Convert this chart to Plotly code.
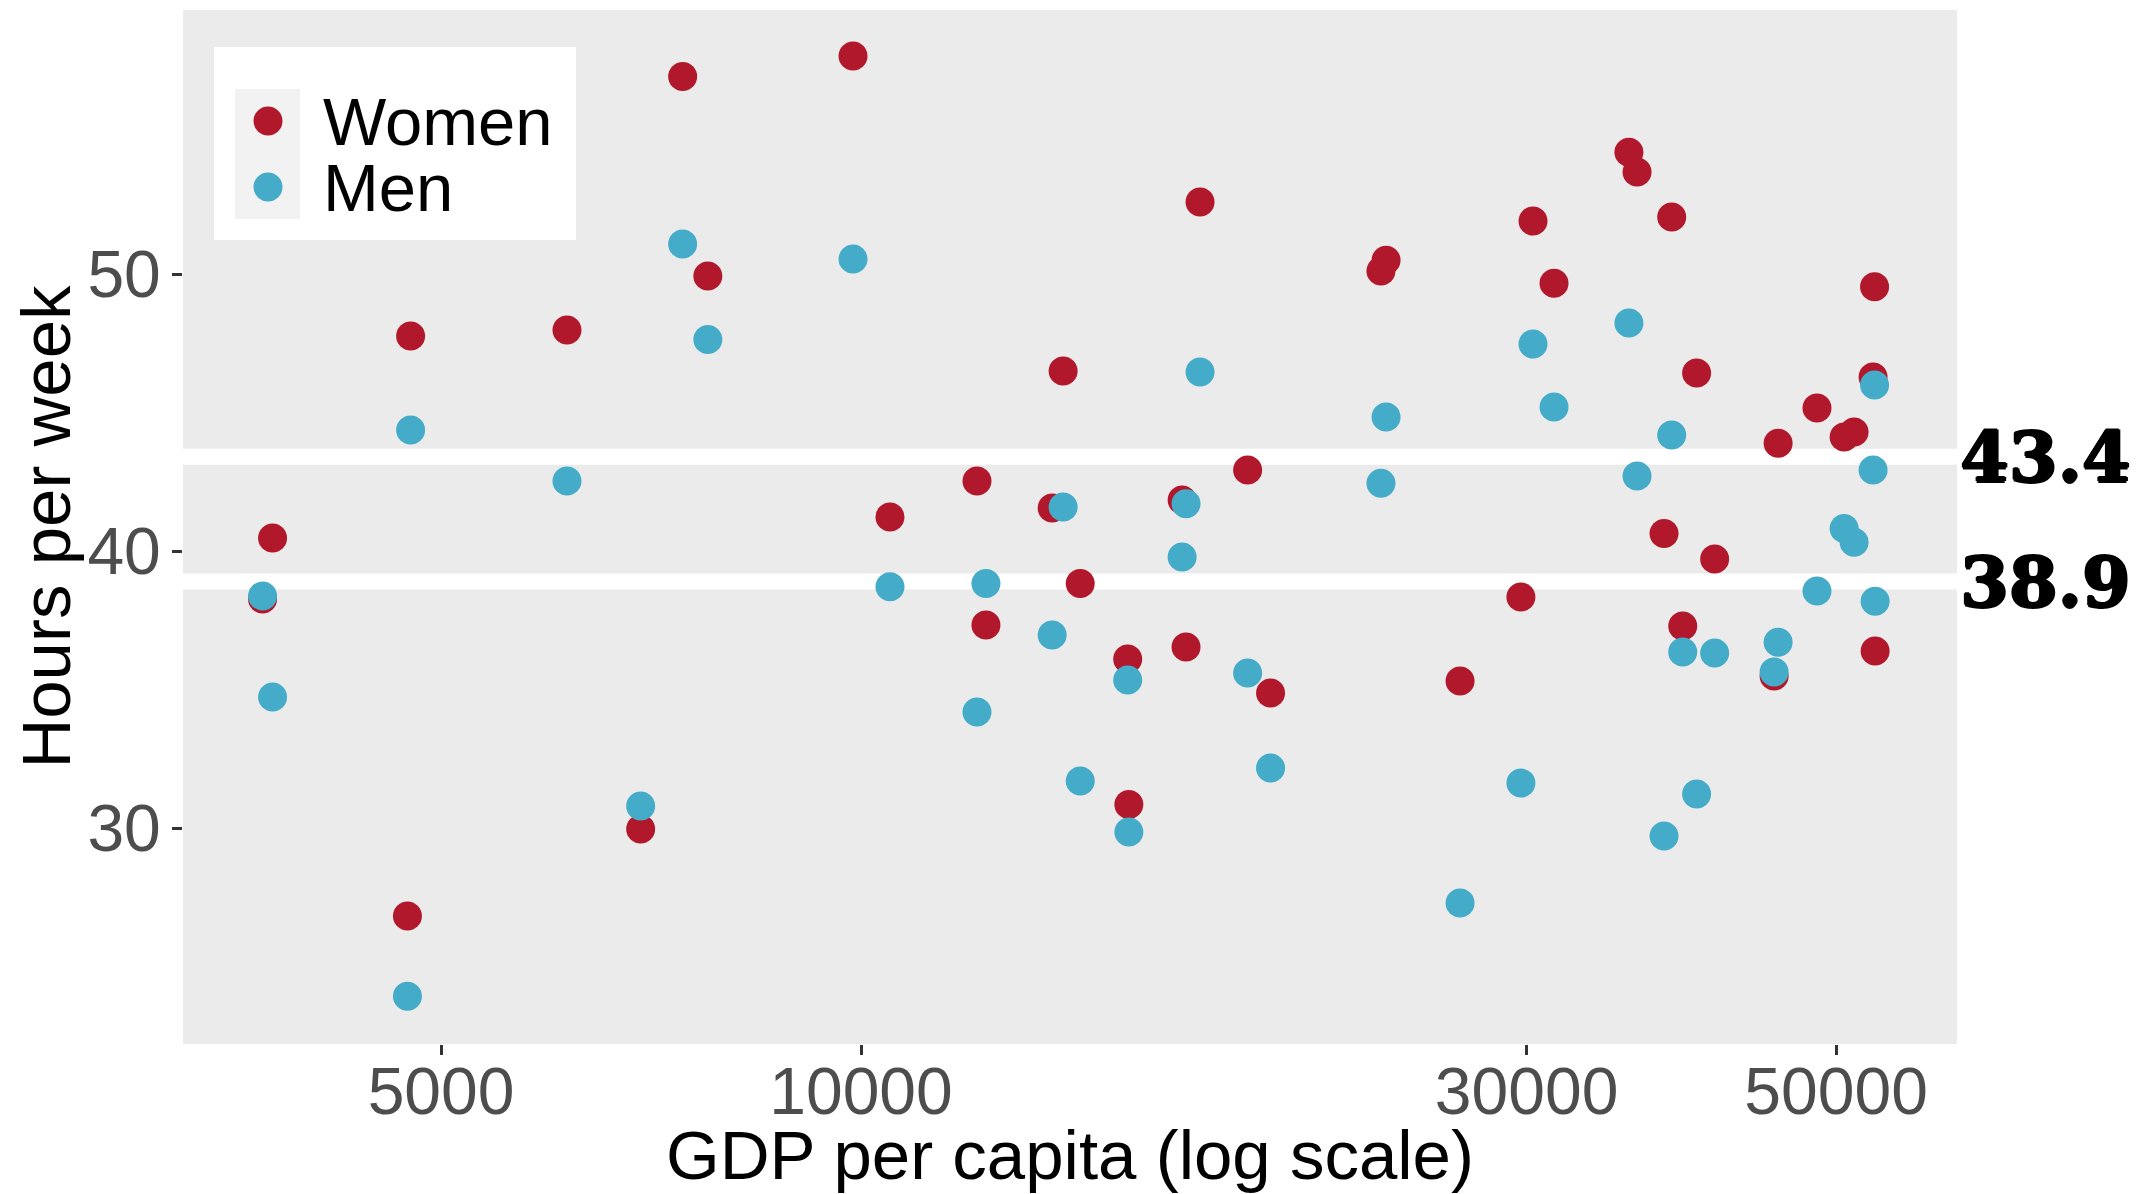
import plotly.graph_objects as go

# ---- data ----
gdp = [3724, 3786, 4730, 4755, 6155, 6951, 7450, 7766, 9869, 10490,
       12110, 12290, 13710, 13960, 14360, 15530, 15560, 16990, 17100, 17500,
       18930, 19660, 23590, 23790, 26880, 29720, 30320, 31390, 35520, 36000,
       37640, 38120, 38820, 39720, 40920, 45140, 45440, 48450, 50670, 51510,
       53150, 53280, 53330]
women = [38.27, 40.47, 26.82, 47.76, 47.98, 29.96, 57.13, 49.93, 57.87, 41.23,
         42.53, 37.33, 41.55, 46.50, 38.83, 36.10, 30.85, 41.84, 36.53, 52.60,
         42.92, 34.87, 50.11, 50.50, 35.31, 38.34, 51.91, 49.67, 54.40, 53.68,
         40.63, 52.06, 37.29, 46.43, 39.71, 35.49, 43.89, 45.16, 44.12, 44.30,
         46.28, 49.54, 36.39]
men = [38.38, 34.73, 23.93, 44.37, 42.53, 30.79, 51.08, 47.64, 50.54, 38.71,
       34.19, 38.83, 36.97, 41.59, 31.70, 35.34, 29.86, 39.78, 41.71, 46.46,
       35.60, 32.17, 42.45, 44.84, 27.29, 31.62, 47.47, 45.20, 48.23, 42.71,
       29.71, 44.19, 36.35, 31.23, 36.32, 35.63, 36.71, 38.56, 40.81, 40.32,
       42.92, 45.99, 38.19]
series_names = ["Women", "Men"]
series_colors = ["#B2182B", "#44ACC8"]
mean_values = [43.4, 38.9]
mean_labels = ["43.4", "38.9"]
x_tickvals = [5000, 10000, 30000, 50000]
x_ticktext = ["5000", "10000", "30000", "50000"]
y_tickvals = [30, 40, 50]

SANS = "Liberation Sans, Arial, Helvetica, sans-serif"

fig = go.Figure()
for name, vals, col in zip(series_names, [women, men], series_colors):
    fig.add_trace(go.Scatter(
        x=gdp, y=vals, mode="markers", name=name,
        marker=dict(size=29, color=col, line=dict(width=0)),
        showlegend=False,
    ))

# mean lines (white, under points)
for v in mean_values:
    fig.add_shape(type="line", xref="paper", x0=0, x1=1, yref="y", y0=v, y1=v,
                  line=dict(color="white", width=16), layer="below")

# right-side labels for mean lines (heavy slab serif look)
heavy = "1.5px 0 0 black, -1px 0 0 black, 0 1.5px 0 black, 0 -1px 0 black"
for v, lab in zip(mean_values, mean_labels):
    fig.add_annotation(text="<b>" + lab + "</b>", xref="paper", x=1, xanchor="left",
                       xshift=1, yref="y", y=v, yanchor="middle", showarrow=False,
                       font=dict(family="DejaVu Serif", size=70, color="black",
                                 shadow=heavy))

# custom legend (white box, grey key, markers, text)
fig.add_shape(type="rect", xref="paper", yref="paper", x0=0.01747, x1=0.2215,
              y0=0.7776, y1=0.9642, fillcolor="white", line=dict(width=0), layer="above")
fig.add_shape(type="rect", xref="paper", yref="paper", x0=0.02931, x1=0.06595,
              y0=0.7979, y1=0.9236, fillcolor="#F2F2F2", line=dict(width=0), layer="above")
leg_y = [0.8926, 0.8288]
for name, col, yy in zip(series_names, series_colors, leg_y):
    fig.add_shape(type="circle", xref="paper", yref="paper",
                  xsizemode="pixel", ysizemode="pixel",
                  xanchor=0.04791, yanchor=yy, x0=-14.5, x1=14.5, y0=-14.5, y1=14.5,
                  fillcolor=col, line=dict(width=0), layer="above")
    fig.add_annotation(text=name, xref="paper", yref="paper", x=0.0778, y=yy,
                       xanchor="left", yanchor="middle", showarrow=False,
                       font=dict(family=SANS, size=67, color="black"))

# the page body has an 8px margin; shrink the figure so the panel sits where the reference has it
fig.update_layout(
    width=2130, height=1186,
    margin=dict(l=175, r=181, t=2, b=150),
    paper_bgcolor="white", plot_bgcolor="#EBEBEB",
    showlegend=False,
    font=dict(family=SANS),
)
fig.update_xaxes(
    type="log", range=[3.51398, 4.78566],
    tickvals=x_tickvals, ticktext=x_ticktext,
    showgrid=False, zeroline=False, showline=False,
    ticks="outside", ticklen=10, tickwidth=2.5, tickcolor="#333333",
    ticklabelstandoff=-20,
    tickfont=dict(family=SANS, size=66, color="#4D4D4D"),
    title=dict(text="GDP per capita (log scale)", standoff=2,
               font=dict(family=SANS, size=69, color="black")),
)
fig.update_yaxes(
    range=[22.202, 59.531],
    tickvals=y_tickvals,
    showgrid=False, zeroline=False, showline=False,
    ticks="outside", ticklen=10, tickwidth=2.5, tickcolor="#333333",
    ticklabelstandoff=-2,
    tickfont=dict(family=SANS, size=66, color="#4D4D4D"),
    title=dict(text="Hours per week", standoff=20,
               font=dict(family=SANS, size=69, color="black")),
)

fig.write_html("out.html")
